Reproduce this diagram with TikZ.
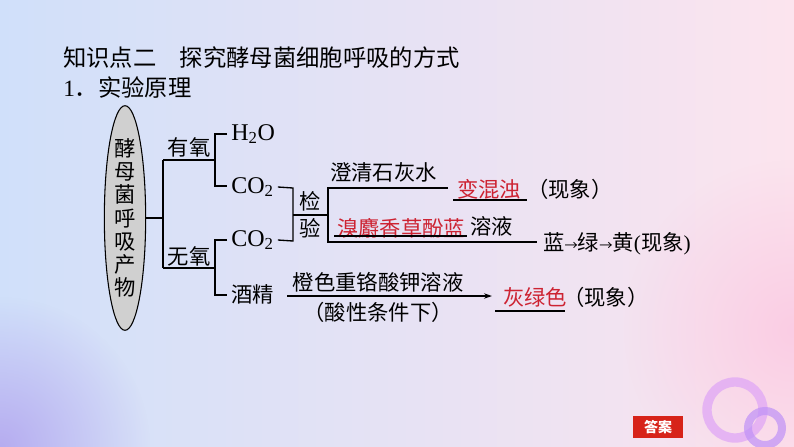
\documentclass[tikz,border=0pt]{standalone}
\usepackage{fontspec}
\setmainfont{Liberation Serif}
\newfontfamily\cjk{Noto Sans CJK SC}
\usetikzlibrary{shapes.geometric,arrows.meta,fadings,calc}
\tikzfading[name=myfade,inner color=transparent!0,outer color=transparent!100]
\definecolor{bgl}{RGB}{208,224,250}
\definecolor{bgm}{RGB}{243,242,252}
\definecolor{bgr}{RGB}{252,228,238}
\definecolor{bgp}{RGB}{182,172,240}
\definecolor{bgpk}{RGB}{250,205,228}
\definecolor{ansred}{RGB}{215,35,25}
\definecolor{txtred}{RGB}{205,35,50}
\definecolor{ringc}{RGB}{225,170,245}
\definecolor{ellg}{RGB}{208,208,208}
\begin{document}
\begin{tikzpicture}[x=0.75pt,y=-0.75pt,
  txt/.style={inner sep=0pt,font=\fontsize{16}{18}\selectfont\cjk},
  rtxt/.style={txt,text=txtred},
  lat/.style={inner sep=0pt,font=\fontsize{18}{20}\selectfont},
  ln/.style={line width=1pt,black},
  ul/.style={line width=0.9pt,black}]
\useasboundingbox (0,0) rectangle (794,447);
\shade[left color=bgl,middle color=bgm,right color=bgr] (0,0) rectangle (794,447);
\begin{scope}
\clip (0,0) rectangle (794,447);
\fill[bgp,path fading=myfade] (0,447) circle (150);
\fill[bgpk,path fading=myfade] (794,330) circle (170);
\end{scope}
% rings
\draw[ringc,opacity=0.8,line width=7pt] (735,410) circle (28);
\draw[ringc!85!blue,opacity=0.7,line width=6pt] (765,428) circle (17);
% title
\node[inner sep=0pt,anchor=west,font=\fontsize{17.5}{20}\selectfont\cjk] (title) at (63,58) {知识点二　探究酵母菌细胞呼吸的方式};
\node[inner sep=0pt,anchor=west,font=\fontsize{17.5}{20}\selectfont] (sub) at (63,88) {1{\cjk ．实验原理}};
% ellipse
\node[ellipse,draw,fill=ellg,line width=0.8pt,minimum width=31pt,minimum height=148pt,inner sep=0pt,
  align=center,font=\fontsize{16}{17.4}\selectfont\cjk] (E) at (125,218) {酵\\母\\菌\\呼\\吸\\产\\物};
% first split
\coordinate (j1) at (163,218);
\coordinate (j1t) at (163,160);
\coordinate (j1b) at (163,268);
\coordinate (b1) at (215,160);
\coordinate (b2) at (215,268);
\draw[ln] (E.east) -- (j1);
\draw[ln] (j1t) -- (j1b);
\draw[ln] (j1t) -- (b1);
\draw[ln] (j1b) -- (b2);
\node[txt] (yy) at (189,147) {有氧};
\node[txt] (wy) at (189,256) {无氧};
% upper bracket
\node[lat,anchor=west] (h2o) at (231,134) {H\textsubscript{2}O};
\node[lat,anchor=west] (co2a) at (231,187) {CO\textsubscript{2}};
\coordinate (ua) at (215,134);
\coordinate (ub) at (215,186);
\draw[ln] ($(ua)+(12,0)$) -- (ua) -- (ub) -- ++(12,0);
% lower bracket
\node[lat,anchor=west] (co2b) at (231,240) {CO\textsubscript{2}};
\node[txt,anchor=west] (jj) at (231,294) {酒精};
\coordinate (la) at (215,240);
\coordinate (lb) at (215,295);
\draw[ln] ($(la)+(12,0)$) -- (la) -- (lb) -- ++(12,0);
% test bracket
\coordinate (ta) at (293,188);
\coordinate (tb) at (293,241);
\coordinate (tm) at (293,215);
\coordinate (tm2) at (328,215);
\draw[ln] ($(co2a.east)+(4,0)$) -- (ta) -- (tb) -- ($(co2b.east)+(4,0)$);
\node[txt] (jian) at (310,201) {检};
\node[txt] (yan) at (310,228) {验};
\coordinate (va) at (328,188);
\coordinate (vb) at (328,242);
\coordinate (ea) at (448,188);
\coordinate (eb) at (537,242);
\draw[ln] (tm) -- (tm2);
\draw[ln] (ea) -- (va) -- (vb) -- (eb);
\node[txt,anchor=west] (shs) at (330,172) {澄清石灰水};
\node[rtxt] (bhz) at (489,189) {变混浊};
\draw[ul] (453,200) -- (527,200);
\node[txt,anchor=west] (xx1) at (527,189) {（现象）};
\node[rtxt,anchor=west] (xmx) at (337,228) {溴麝香草酚蓝};
\draw[ul] (334,236) -- (467,236);
\node[txt,anchor=west] (ry) at (470,226) {溶液};
\node[txt,anchor=west] (lan) at (543,244) {蓝{\fontsize{10}{12}\selectfont →}绿{\fontsize{10}{12}\selectfont →}黄{\fontfamily{\rmdefault}\selectfont (}现象{\fontfamily{\rmdefault}\selectfont )}};
% bottom arrow
\coordinate (ar0) at (287,296);
\coordinate (ar1) at (492,296);
\draw[ln,-{Stealth[length=6pt,width=4pt]}] (ar0) -- (ar1);
\node[txt] (cs) at (378,282) {橙色重铬酸钾溶液};
\node[txt] (sx) at (378,312) {（酸性条件下）};
\node[rtxt,anchor=west] (hls) at (503,297) {灰绿色};
\draw[ul] (495,311) -- (565,311);
\node[txt,anchor=west] (xx2) at (563,297) {（现象）};
% answer box
\node[fill=ansred,text=white,minimum width=37.5pt,minimum height=16.5pt,inner sep=0pt,
  font=\fontsize{10.5}{12}\selectfont\cjk\bfseries] (ans) at (658,427) {答案};
\end{tikzpicture}
\end{document}
